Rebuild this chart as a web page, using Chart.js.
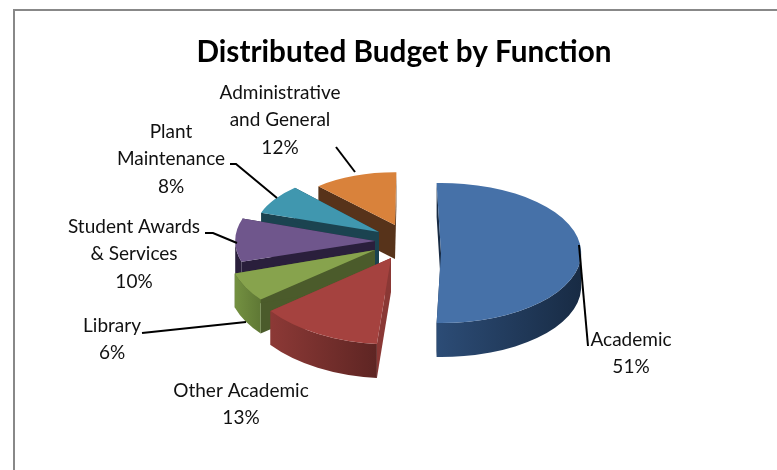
<!DOCTYPE html>
<html>
<head>
<meta charset="utf-8">
<title>Distributed Budget by Function</title>
<script src="https://cdn.jsdelivr.net/npm/chart.js@4"></script>
<style>
  html, body { margin: 0; padding: 0; background: #fff; overflow: hidden; }
  canvas { display: block; }
</style>
</head>
<body>
<canvas id="myChart" width="777" height="470"></canvas>
<script>
var categories = ['Academic', 'Other Academic', 'Library', 'Student Awards & Services', 'Plant Maintenance', 'Administrative and General'];
var budget_share = [51, 13, 6, 10, 8, 12];

// category names broken the way they sit on the chart
var label_lines = [
    ['Academic'],
    ['Other Academic'],
    ['Library'],
    ['Student Awards', '& Services'],
    ['Plant', 'Maintenance'],
    ['Administrative', 'and General']
];

var top_colors = ['#4671a8', '#a5423f', '#87a34d', '#6f568c', '#4097af', '#d9823b'];
var wall_light = ['#2c4c76', '#8c3936', '#749141', '#2a1f3c', '#1b4350', '#57331a'];
var wall_dark = ['#182b44', '#5e2523', '#5f7835', '#2a1f3c', '#1b4350', '#57331a'];
var face_colors = ['#182b44', '#8a3835', '#4b5b2b', '#2a1f3c', '#1b4350', '#57331a'];

// pie placement on the page
var pie_x = 410;
var pie_y = 244;
var squash = 0.5;
var wall_height = 34;
var slice_shift = [[31, 9], [-19, 14], [-35, 6], [-35, -3], [-31, -12], [-15, -19]];
// the exploded slices sit a little further round than the big one
var slice_turn = [0, 3.5, 2.5, 2.5, 2.5, 2.5];

// label anchors and leader lines
var label_pos = [[631, 340], [241, 391], [112, 326], [134, 227], [171, 132], [280, 93]];
var line_height = 27.3;
var leaders = [
    [[579, 245], [588, 346]],
    [],
    [[142, 333], [246, 322]],
    [[205, 233], [213, 233], [237, 243]],
    [[230, 164], [236, 164], [277, 198]],
    [[336, 147], [355, 172]]
];

function sliceGeometry(arc, i) {
    var turn = slice_turn[i] * Math.PI / 180;
    var start = arc.startAngle + turn;
    var end = arc.endAngle + turn;
    // nearer slices come out bigger, more in height than in width
    var near = Math.sin((start + end) / 2);
    var zoom_x = 0.98 + (near > 0 ? 0.1 : 0.2) * near;
    var zoom_y = 0.98 + 0.26 * near;
    return {
        x: pie_x + slice_shift[i][0],
        y: pie_y + slice_shift[i][1],
        rx: arc.outerRadius * zoom_x,
        ry: arc.outerRadius * zoom_y * squash,
        zoom_x: zoom_x,
        zoom_y: zoom_y,
        turn: turn,
        start: start,
        end: end
    };
}

function drawFace(ctx, g, angle, color) {
    var ex = g.x + Math.cos(angle) * g.rx;
    var ey = g.y + Math.sin(angle) * g.ry;
    ctx.fillStyle = color;
    ctx.beginPath();
    ctx.moveTo(g.x, g.y);
    ctx.lineTo(ex, ey);
    ctx.lineTo(ex, ey + wall_height);
    ctx.lineTo(g.x, g.y + wall_height);
    ctx.closePath();
    ctx.fill();
}

function drawOuterWall(ctx, g, i) {
    // only the part of the rim that faces the viewer
    var from = Math.max(g.start, 0);
    var to = Math.min(g.end, Math.PI);
    if (to <= from) return;
    var x0 = g.x + Math.min(Math.cos(from), Math.cos(to)) * g.rx;
    var x1 = g.x + Math.max(Math.cos(from), Math.cos(to)) * g.rx;
    var grad = ctx.createLinearGradient(x0, 0, x1, 0);
    grad.addColorStop(0, wall_light[i]);
    grad.addColorStop(1, wall_dark[i]);
    ctx.fillStyle = grad;
    ctx.beginPath();
    ctx.ellipse(g.x, g.y, g.rx, g.ry, 0, from, to);
    ctx.ellipse(g.x, g.y + wall_height, g.rx, g.ry, 0, to, from, true);
    ctx.closePath();
    ctx.fill();
}

var pie3d = {
    id: 'pie3d',
    beforeDraw: function (chart) {
        var ctx = chart.ctx;
        ctx.save();
        ctx.strokeStyle = '#888888';
        ctx.lineWidth = 2;
        ctx.beginPath();
        ctx.moveTo(777, 10);
        ctx.lineTo(14, 10);
        ctx.lineTo(14, 470);
        ctx.stroke();
        ctx.restore();
    },
    beforeDatasetDraw: function (chart, args) {
        var ctx = chart.ctx;
        var arcs = args.meta.data;
        // back slices first, the Academic slice stands apart
        var order = [5, 4, 3, 2, 1, 0];
        order.forEach(function (i) {
            var arc = arcs[i];
            var g = sliceGeometry(arc, i);
            drawFace(ctx, g, g.start, face_colors[i]);
            drawFace(ctx, g, g.end, face_colors[i]);
            drawOuterWall(ctx, g, i);
            ctx.save();
            ctx.translate(g.x, g.y);
            ctx.scale(g.zoom_x, g.zoom_y * squash);
            ctx.rotate(g.turn);
            ctx.translate(-arc.x, -arc.y);
            arc.draw(ctx);
            ctx.restore();
        });
        return false;
    },
    afterDatasetsDraw: function (chart) {
        var ctx = chart.ctx;
        ctx.save();
        ctx.strokeStyle = '#000';
        ctx.lineWidth = 2;
        leaders.forEach(function (pts) {
            if (!pts.length) return;
            ctx.beginPath();
            pts.forEach(function (p, k) {
                if (k == 0) ctx.moveTo(p[0], p[1]);
                else ctx.lineTo(p[0], p[1]);
            });
            ctx.stroke();
        });
        ctx.fillStyle = '#111';
        ctx.font = '19px Lato';
        ctx.textAlign = 'center';
        ctx.textBaseline = 'middle';
        label_lines.forEach(function (lines, i) {
            var rows = lines.concat([budget_share[i] + '%']);
            rows.forEach(function (row, k) {
                ctx.fillText(row, label_pos[i][0], label_pos[i][1] + k * line_height);
            });
        });
        ctx.restore();
    }
};

var ctx = document.getElementById('myChart').getContext('2d');
var myChart = new Chart(ctx, {
    type: 'pie',
    data: {
        labels: categories,
        datasets: [{
            data: budget_share,
            backgroundColor: top_colors,
            borderWidth: 0,
            radius: 143,
            rotation: -1.8
        }]
    },
    options: {
        responsive: false,
        animation: false,
        layout: { padding: { left: 31 } },
        plugins: {
            legend: { display: false },
            tooltip: { enabled: false },
            title: {
                display: true,
                text: 'Distributed Budget by Function',
                color: '#000',
                font: { family: 'Lato', size: 29.7, weight: 'bold' },
                padding: { top: 35, bottom: 0 }
            }
        }
    },
    plugins: [pie3d]
});
</script>
</body>
</html>
